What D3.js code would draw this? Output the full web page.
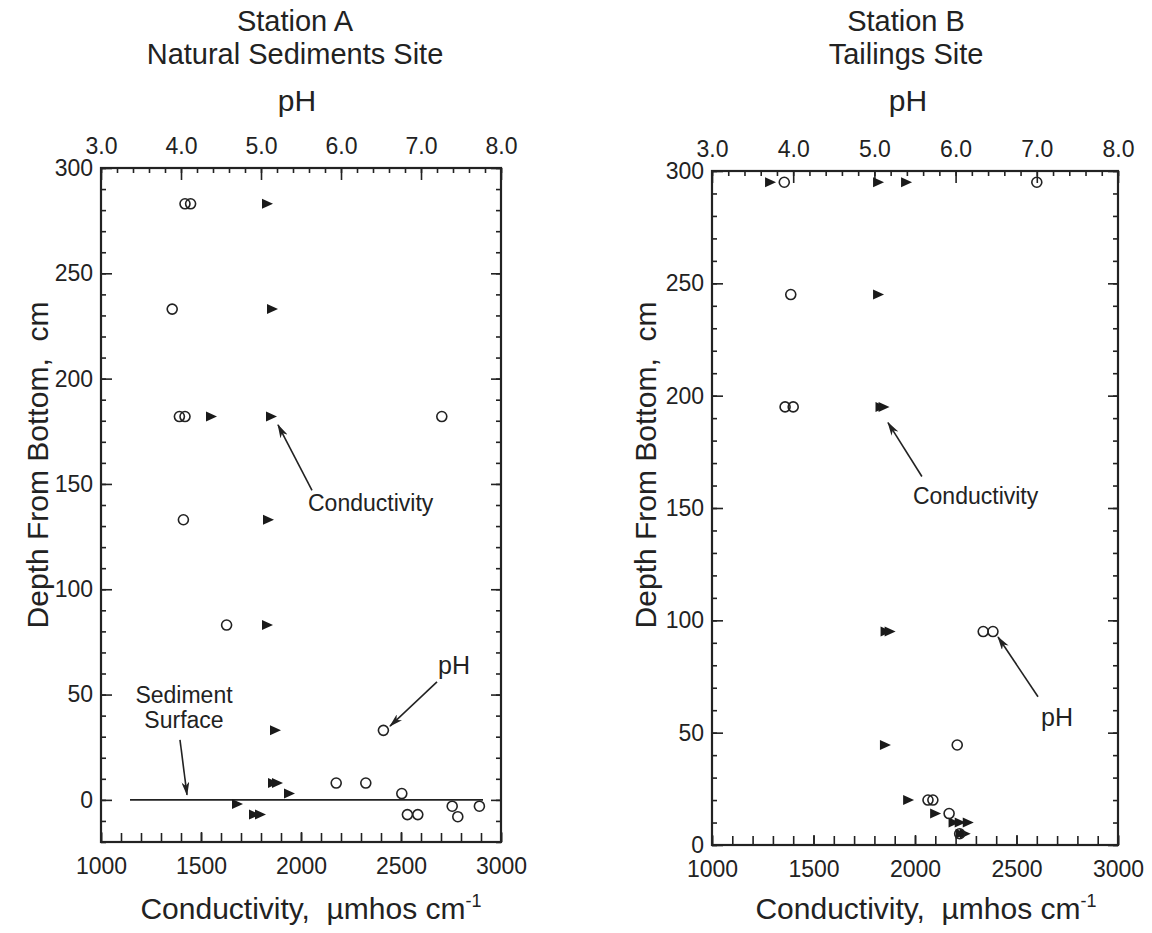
<!DOCTYPE html>
<html>
<head>
<meta charset="utf-8">
<script src="https://cdn.jsdelivr.net/npm/d3@7"></script>
<style>
  body { margin: 0; background: #fff; }
  text { font-family: "Liberation Sans", Arial, Helvetica, sans-serif; fill: #222; font-size: 23px; }
</style>
</head>
<body>
<div id="chart"></div>
<script>
// Tick values
var phTicks = [3, 4, 5, 6, 7, 8];
var condTicks = [1000, 1500, 2000, 2500, 3000];
var depthTicks = [0, 50, 100, 150, 200, 250, 300];

// Station A - pH (open circles) as [pH, depth cm]
var phA = [[4.05, 283], [4.12, 283], [3.89, 233], [3.98, 182], [4.05, 182], [7.26, 182],
  [4.03, 133], [4.57, 83], [6.53, 33], [5.94, 8], [6.31, 8], [6.76, 3],
  [6.83, -7], [6.96, -7], [7.39, -3], [7.46, -8], [7.73, -3]];
// Station A - conductivity (filled triangles) as [umhos/cm, depth cm]
var condA = [[1830, 283], [1855, 233], [1550, 182], [1850, 182], [1835, 133], [1830, 83],
  [1870, 33], [1860, 8], [1880, 8], [1940, 3], [1680, -2], [1765, -7], [1795, -7]];
// Station A - sediment surface line
var surfaceA = [[1145, 0], [2910, 0]];

// Station B - pH
var phB = [[3.89, 295], [7.0, 295], [3.97, 245], [3.9, 195], [4.0, 195],
  [6.34, 95], [6.46, 95], [6.02, 44.5], [5.66, 20], [5.72, 20], [5.92, 14], [6.05, 5]];
// Station B - conductivity
var condB = [[1286, 295], [1818, 295], [1956, 295], [1818, 245], [1830, 195], [1845, 195],
  [1855, 95], [1875, 95], [1852, 44.5], [1966, 20], [2099, 14],
  [2190, 10], [2220, 10], [2260, 10], [2225, 5], [2245, 5]];

// Annotations, in data units (conductivity, depth)
var notesA = [
  { lines: ["Conductivity"], at: [2035, 137], anchor: "start", from: [2055, 147], to: [1885, 178] },
  { lines: ["pH"], at: [2765, 60], anchor: "middle", from: [2680, 56], to: [2445, 35] },
  { lines: ["Sediment", "Surface"], at: [1415, 46], anchor: "middle", from: [1395, 28.5], to: [1430, 2.4] }
];
var notesB = [
  { lines: ["Conductivity"], at: [1990, 152], anchor: "start", from: [2034, 164], to: [1867, 188] },
  { lines: ["pH"], at: [2700, 53], anchor: "middle", from: [2606, 66], to: [2409, 92.6] }
];

var svg = d3.select("#chart").append("svg")
  .attr("width", 1152)
  .attr("height", 933);

// arrow head
svg.append("defs").append("marker")
  .attr("id", "arrow")
  .attr("viewBox", "0 0 14 8")
  .attr("refX", 13)
  .attr("refY", 4)
  .attr("markerWidth", 14)
  .attr("markerHeight", 8)
  .attr("markerUnits", "userSpaceOnUse")
  .attr("orient", "auto")
  .append("path")
  .attr("d", "M0,0 L14,4 L0,8 L4,4 Z")
  .attr("fill", "#222");

var panels = [
  { title: ["Station A", "Natural Sediments Site"], titleX: 295, yTitleX: 48, xTitleX: 311,
    left: 101, right: 501, top: 168, bottom: 842, depthMin: -20,
    ph: phA, cond: condA, surface: surfaceA, notes: notesA },
  { title: ["Station B", "Tailings Site"], titleX: 906, yTitleX: 656, xTitleX: 926,
    left: 712, right: 1118, top: 171, bottom: 845, depthMin: 0,
    ph: phB, cond: condB, surface: null, notes: notesB }
];

panels.forEach(drawPanel);

function drawPanel(p) {
  var g = svg.append("g").attr("color", "#222");

  var x = d3.scaleLinear().domain([1000, 3000]).range([p.left, p.right]);
  var xph = d3.scaleLinear().domain([3, 8]).range([p.left, p.right]);
  var y = d3.scaleLinear().domain([p.depthMin, 300]).range([p.bottom, p.top]);

  var minorDepth = d3.range(Math.ceil(p.depthMin / 10) * 10, 301, 10);
  var minorPh = d3.range(3, 8.01, 0.2);
  var minorCond = d3.range(1000, 3001, 100);

  function noDomain(sel) { sel.select(".domain").remove(); }

  // minor ticks
  g.append("g").attr("transform", `translate(${p.left},0)`)
    .call(d3.axisLeft(y).tickValues(minorDepth).tickSize(-5).tickFormat(""))
    .call(noDomain);
  g.append("g").attr("transform", `translate(${p.right},0)`)
    .call(d3.axisRight(y).tickValues(minorDepth).tickSize(-5).tickFormat(""))
    .call(noDomain);
  g.append("g").attr("transform", `translate(0,${p.top})`)
    .call(d3.axisTop(xph).tickValues(minorPh).tickSize(-5).tickFormat(""))
    .call(noDomain);
  g.append("g").attr("transform", `translate(0,${p.bottom})`)
    .call(d3.axisBottom(x).tickValues(minorCond).tickSize(-9).tickFormat(""))
    .call(noDomain);

  // major ticks with labels
  g.append("g").attr("transform", `translate(${p.left},0)`)
    .call(d3.axisLeft(y).tickValues(depthTicks).tickSize(-11).tickPadding(8))
    .call(noDomain);
  g.append("g").attr("transform", `translate(${p.right},0)`)
    .call(d3.axisRight(y).tickValues(depthTicks).tickSize(-10).tickFormat(""))
    .call(noDomain);
  g.append("g").attr("transform", `translate(0,${p.top})`)
    .call(d3.axisTop(xph).tickValues(phTicks).tickSize(-12).tickPadding(14).tickFormat(d3.format(".1f")))
    .call(noDomain);
  g.append("g").attr("transform", `translate(0,${p.bottom})`)
    .call(d3.axisBottom(x).tickValues(condTicks).tickSize(-10).tickPadding(16).tickFormat(d3.format("d")))
    .call(noDomain);

  g.selectAll(".tick line").attr("stroke-width", 1.6);
  g.selectAll(".tick text").attr("fill", null);

  // frame
  g.append("rect")
    .attr("x", p.left)
    .attr("y", p.top)
    .attr("width", p.right - p.left)
    .attr("height", p.bottom - p.top)
    .attr("fill", "none")
    .attr("stroke", "#222")
    .attr("stroke-width", 2.2);

  // titles
  var t = g.append("text")
    .attr("text-anchor", "middle")
    .style("font-size", "29px");
  p.title.forEach(function(line, i) {
    t.append("tspan").attr("x", p.titleX).attr("y", 31 + i * 33).text(line);
  });

  g.append("text")
    .attr("x", p.titleX + 2)
    .attr("y", 111)
    .attr("text-anchor", "middle")
    .style("font-size", "30px")
    .text("pH");

  g.append("text")
    .attr("transform", `translate(${p.yTitleX},465) rotate(-90)`)
    .attr("text-anchor", "middle")
    .style("font-size", "30px")
    .style("white-space", "pre")
    .text("Depth From Bottom,  cm");

  var xt = g.append("text")
    .attr("x", p.xTitleX)
    .attr("y", 919)
    .attr("text-anchor", "middle")
    .style("font-size", "30px")
    .style("white-space", "pre");
  xt.append("tspan").text("Conductivity,  \u00b5mhos cm");
  xt.append("tspan").attr("dy", -12).style("font-size", "18px").text("-1");

  // sediment surface line
  if (p.surface) {
    g.append("line")
      .attr("x1", x(p.surface[0][0]))
      .attr("x2", x(p.surface[1][0]))
      .attr("y1", y(p.surface[0][1]))
      .attr("y2", y(p.surface[1][1]))
      .attr("stroke", "#222")
      .attr("stroke-width", 1.6);
  }

  // conductivity triangles
  g.selectAll(".cond")
    .data(p.cond)
    .enter()
    .append("path")
    .attr("class", "cond")
    .attr("d", "M-5,-5 L6,0 L-5,5 Z")
    .attr("transform", d => `translate(${x(d[0])},${y(d[1])})`)
    .attr("fill", "#1a1a1a");

  // pH circles
  g.selectAll(".ph")
    .data(p.ph)
    .enter()
    .append("circle")
    .attr("class", "ph")
    .attr("cx", d => xph(d[0]))
    .attr("cy", d => y(d[1]))
    .attr("r", 5)
    .attr("fill", "none")
    .attr("stroke", "#222")
    .attr("stroke-width", 1.6);

  // annotations
  p.notes.forEach(function(n) {
    var nt = g.append("text")
      .attr("text-anchor", n.anchor)
      .style("font-size", n.lines[0] === "pH" ? "25px" : "23px");
    n.lines.forEach(function(line, i) {
      nt.append("tspan")
        .attr("x", x(n.at[0]))
        .attr("y", y(n.at[1]) + i * 25)
        .text(line);
    });
    g.append("line")
      .attr("x1", x(n.from[0]))
      .attr("y1", y(n.from[1]))
      .attr("x2", x(n.to[0]))
      .attr("y2", y(n.to[1]))
      .attr("stroke", "#222")
      .attr("stroke-width", 1.6)
      .attr("marker-end", "url(#arrow)");
  });
}
</script>
</body>
</html>
